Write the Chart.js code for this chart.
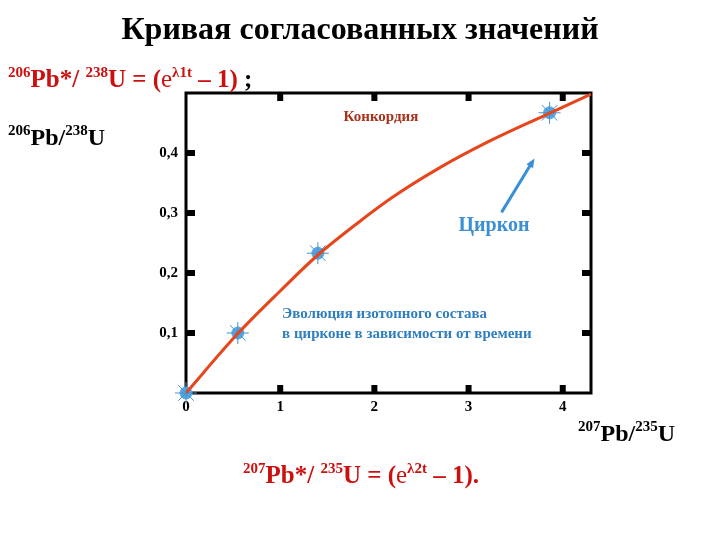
<!DOCTYPE html>
<html>
<head>
<meta charset="utf-8">
<script src="https://cdn.jsdelivr.net/npm/chart.js@4"></script>
<style>
  body { margin: 0; background: #fff; }
  #wrap { position: relative; width: 720px; height: 540px; font-family: 'Liberation Serif', serif; font-weight: bold; }
  .lbl { position: absolute; white-space: nowrap; font-size: 25px; line-height: 1; }
  .lbl sup { font-size: 15px; vertical-align: 10px; }
  .red { color: #cc1010; }
  .e { font-weight: normal; }
</style>
</head>
<body>
<div id="wrap">
  <canvas id="chart" width="720" height="540"></canvas>
  <div class="lbl red" style="left:8px;top:65px"><sup>206</sup>Pb*/ <sup>238</sup>U = (<span class="e">e</span><sup>λ1t</sup> – 1) <span style="color:#000">;</span></div>
  <div class="lbl" style="left:8px;top:123px;font-size:24px"><sup>206</sup>Pb/<sup>238</sup>U</div>
  <div class="lbl" style="left:578px;top:419px;font-size:24px"><sup>207</sup>Pb/<sup>235</sup>U</div>
  <div class="lbl red" style="left:243px;top:461px"><sup>207</sup>Pb*/ <sup>235</sup>U = (<span class="e">e</span><sup>λ2t</sup> – 1).</div>
</div>
<script>
// concordia curve (207Pb/235U vs 206Pb/238U)
const curveX = [0, 0.55, 1.0, 1.4, 1.82, 2.2, 2.7, 3.2, 3.8, 4.3]
const curveY = [0, 0.099, 0.170, 0.230, 0.283, 0.327, 0.376, 0.418, 0.462, 0.498]
// zircon points on the curve
const zirconX = [0, 0.55, 1.4, 3.86]
const zirconY = [0, 0.100, 0.233, 0.467]
const xTicks = [0, 1, 2, 3, 4]
const yTicks = [0.1, 0.2, 0.3, 0.4]

const serif = 'Liberation Serif'

const toPts = (xs, ys) => xs.map((x, i) => ({ x: x, y: ys[i] }))

const framePlugin = {
  id: 'frame',
  beforeDatasetsDraw(chart) {
    const { ctx, chartArea: c, scales: { x, y } } = chart
    ctx.save()
    ctx.strokeStyle = '#000'
    ctx.lineWidth = 3
    ctx.strokeRect(c.left, c.top, c.right - c.left, c.bottom - c.top)
    ctx.fillStyle = '#000'
    xTicks.slice(1).forEach(v => {
      const px = x.getPixelForValue(v)
      ctx.fillRect(px - 3, c.bottom - 8, 6, 8)
      ctx.fillRect(px - 3, c.top, 6, 8)
    })
    yTicks.forEach(v => {
      const py = y.getPixelForValue(v)
      ctx.fillRect(c.left, py - 3, 9, 6)
      ctx.fillRect(c.right - 9, py - 3, 9, 6)
    })
    ctx.restore()
  },
  afterDatasetsDraw(chart) {
    const { ctx, scales: { x, y } } = chart
    ctx.save()
    // annotations
    ctx.textAlign = 'center'
    ctx.textBaseline = 'middle'
    ctx.fillStyle = '#a8321c'
    ctx.font = 'bold 15px ' + serif
    ctx.fillText('Конкордия', x.getPixelForValue(2.07), y.getPixelForValue(0.459))
    ctx.fillStyle = '#3b8fd4'
    ctx.font = 'bold 20px ' + serif
    ctx.fillText('Циркон', x.getPixelForValue(3.27), y.getPixelForValue(0.279))
    ctx.textAlign = 'left'
    ctx.fillStyle = '#2f7fc0'
    ctx.font = 'bold 15px ' + serif
    ctx.fillText('Эволюция изотопного состава', x.getPixelForValue(1.02), y.getPixelForValue(0.131))
    ctx.fillText('в цирконе в зависимости от времени', x.getPixelForValue(1.02), y.getPixelForValue(0.0975))
    // arrow
    const x0 = x.getPixelForValue(3.35), y0 = y.getPixelForValue(0.301)
    const x1 = x.getPixelForValue(3.70), y1 = y.getPixelForValue(0.391)
    const a = Math.atan2(y1 - y0, x1 - x0)
    ctx.strokeStyle = '#3b8fd4'
    ctx.lineWidth = 3
    ctx.beginPath()
    ctx.moveTo(x0, y0)
    ctx.lineTo(x1 - 6 * Math.cos(a), y1 - 6 * Math.sin(a))
    ctx.stroke()
    ctx.beginPath()
    ctx.moveTo(x1, y1)
    ctx.lineTo(x1 - 10 * Math.cos(a - 0.4), y1 - 10 * Math.sin(a - 0.4))
    ctx.lineTo(x1 - 10 * Math.cos(a + 0.4), y1 - 10 * Math.sin(a + 0.4))
    ctx.closePath()
    ctx.fillStyle = '#3b8fd4'
    ctx.fill()
    ctx.restore()
  }
}

new Chart(document.getElementById('chart'), {
  type: 'scatter',
  data: {
    datasets: [
      {
        label: 'Конкордия',
        data: toPts(curveX, curveY),
        showLine: true,
        borderColor: '#e5461c',
        borderWidth: 3,
        cubicInterpolationMode: 'monotone',
        pointRadius: 0
      },
      {
        label: 'Циркон',
        data: toPts(zirconX, zirconY),
        pointStyle: 'star',
        pointRadius: 11,
        borderColor: '#4a90c8',
        borderWidth: 1,
        clip: false
      },
      {
        label: 'Циркон',
        data: toPts(zirconX, zirconY),
        pointStyle: 'circle',
        pointRadius: 6,
        backgroundColor: '#52a9e6',
        borderColor: '#52a9e6',
        clip: false
      }
    ]
  },
  options: {
    responsive: false,
    devicePixelRatio: 1,
    animation: false,
    layout: { padding: { left: 0, right: 0, top: 0, bottom: 117 } },
    plugins: {
      legend: { display: false },
      tooltip: { enabled: false },
      title: {
        display: true,
        text: 'Кривая согласованных значений',
        color: '#000',
        font: { family: serif, size: 32, weight: 'bold' },
        padding: { top: 12, bottom: 42.6 }
      }
    },
    scales: {
      x: {
        type: 'linear',
        min: 0,
        max: 4.3,
        grid: { display: false },
        border: { display: false },
        afterBuildTicks: s => { s.ticks = xTicks.map(v => ({ value: v })) },
        afterFit: s => { s.height = 30 },
        ticks: {
          color: '#000',
          padding: -3,
          font: { family: serif, size: 15, weight: 'bold' },
          callback: v => String(v)
        }
      },
      y: {
        min: 0,
        max: 0.5,
        grid: { display: false },
        border: { display: false },
        afterBuildTicks: s => { s.ticks = yTicks.map(v => ({ value: v })) },
        afterFit: s => { s.width = 186 },
        ticks: {
          color: '#000',
          padding: 0,
          font: { family: serif, size: 15, weight: 'bold' },
          callback: v => v.toFixed(1).replace('.', ',')
        }
      },
      // empty right-hand axis that only reserves the right margin
      yRight: {
        position: 'right',
        min: 0,
        max: 0.5,
        grid: { display: false },
        border: { display: false },
        ticks: { display: false },
        afterFit: s => { s.width = 129 }
      }
    }
  },
  plugins: [framePlugin]
})
</script>
</body>
</html>
